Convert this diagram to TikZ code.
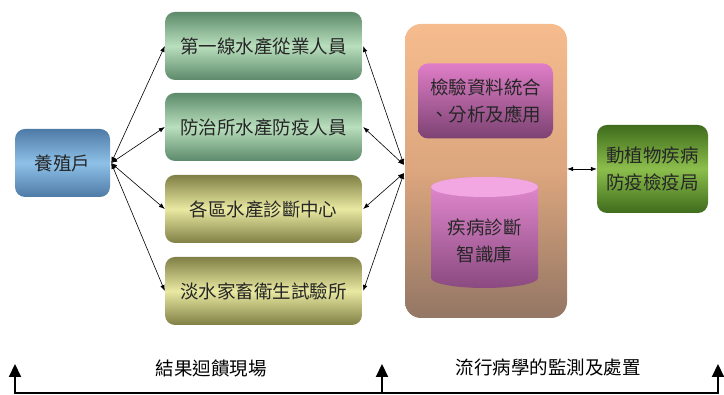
\documentclass[tikz,border=0pt]{standalone}
\usepackage{fontspec}
\newfontfamily\cjk{Noto Sans CJK TC}
\usetikzlibrary{arrows.meta}
\definecolor{blueD}{HTML}{4E7BA6}
\definecolor{blueL}{HTML}{8EC0E8}
\definecolor{greenD}{HTML}{5C8A6A}
\definecolor{greenL}{HTML}{B9DFBD}
\definecolor{yelD}{HTML}{807F45}
\definecolor{yelL}{HTML}{E9E9A2}
\definecolor{orT}{HTML}{F6BC8E}
\definecolor{orM}{HTML}{DCA67E}
\definecolor{orB}{HTML}{937664}
\definecolor{pinkT}{HTML}{E07EC8}
\definecolor{pinkB}{HTML}{7C4272}
\definecolor{cylTop}{HTML}{F2A6E2}
\definecolor{cylT}{HTML}{E68CD2}
\definecolor{cylB}{HTML}{8A4A80}
\definecolor{dgD}{HTML}{3F6C1C}
\definecolor{dgL}{HTML}{8CBE4C}
\definecolor{txt}{HTML}{262626}
\begin{document}
\begin{tikzpicture}[x=1pt,y=1pt,
  box/.style={rounded corners=10pt, inner sep=0pt, align=center,
    font=\cjk\fontsize{18.5}{26.5}\selectfont, text=txt},
  farmbox/.style={box, minimum width=95pt, minimum height=68pt,
    top color=blueD, bottom color=blueD, middle color=blueL},
  greenbox/.style={box, minimum width=197pt, minimum height=68pt,
    top color=greenD, bottom color=greenD, middle color=greenL},
  yelbox/.style={box, minimum width=197pt, minimum height=68pt,
    top color=yelD, bottom color=yelD, middle color=yelL},
  bigbox/.style={rounded corners=16pt, minimum width=162pt, minimum height=294pt,
    top color=orT, bottom color=orB, middle color=orM},
  pinkbox/.style={box, minimum width=135pt, minimum height=75pt,
    top color=pinkT, bottom color=pinkB},
  dgbox/.style={box, minimum width=111pt, minimum height=88pt,
    top color=dgD, bottom color=dgD, middle color=dgL},
  conn/.style={line width=0.6pt, {Latex[length=6pt,width=4.5pt]}-{Latex[length=6pt,width=4.5pt]}},
  up/.style={line width=2pt, -{Triangle[length=13pt,width=12pt]}},
  lbl/.style={font=\cjk\fontsize{18.5}{26}\selectfont, text=black}
]
\useasboundingbox (0,0) rectangle (724,395);

\node[farmbox] (farm) at (62.5,232) {養殖戶};
\node[greenbox] (b1) at (263.5,349) {第一線水產從業人員};
\node[greenbox] (b2) at (263.5,268) {防治所水產防疫人員};
\node[yelbox] (b3) at (263.5,186) {各區水產診斷中心};
\node[yelbox] (b4) at (263.5,104) {淡水家畜衛生試驗所};

\node[bigbox] (big) at (486,224) {};
\node[pinkbox] (pink) at (485.5,294) {檢驗資料統合\\、分析及應用};

% cylinder
\path[top color=cylT, bottom color=cylB]
  (431,208) -- (431,117) arc[start angle=180, end angle=360, x radius=53.5, y radius=10]
  -- (538,208) arc[start angle=0, end angle=180, x radius=53.5, y radius=10] -- cycle;
\path[fill=cylTop] (484.5,208) ellipse[x radius=53.5, y radius=10];
\node[box] (kb) at (484.5,154) {疾病診斷\\智識庫};

\node[dgbox] (dept) at (652.5,226) {動植物疾病\\防疫檢疫局};

% left fan
\coordinate (fs) at ([xshift=1pt]farm.east);
\foreach \b in {b1,b2,b3,b4}{\draw[conn] (fs) -- (\b.west);}

% right fan
\coordinate (r1) at (404,230);
\coordinate (r2) at (404,222);
\draw[conn] (r1) -- ([xshift=1pt]b1.east);
\draw[conn] (r1) -- ([xshift=1pt]b2.east);
\draw[conn] (r2) -- ([xshift=1pt]b3.east);
\draw[conn] (r2) -- ([xshift=1pt]b4.east);

\draw[conn] (big.east |- dept.west) -- (dept.west);

% bottom bar
\coordinate (bl) at (15,2);
\coordinate (bm) at (382,2);
\coordinate (br) at (718,2);
\draw[line width=2pt] ([xshift=-1pt]bl) -- ([xshift=1pt]br);
\draw[up] (bl) -- ++(0,29);
\draw[up] (bm) -- ++(0,29);
\draw[up] (br) -- ++(0,29);
\node[lbl] (l1) at (211,27) {結果迴饋現場};
\node[lbl] (l2) at (548,27) {流行病學的監測及處置};
\end{tikzpicture}
\end{document}
